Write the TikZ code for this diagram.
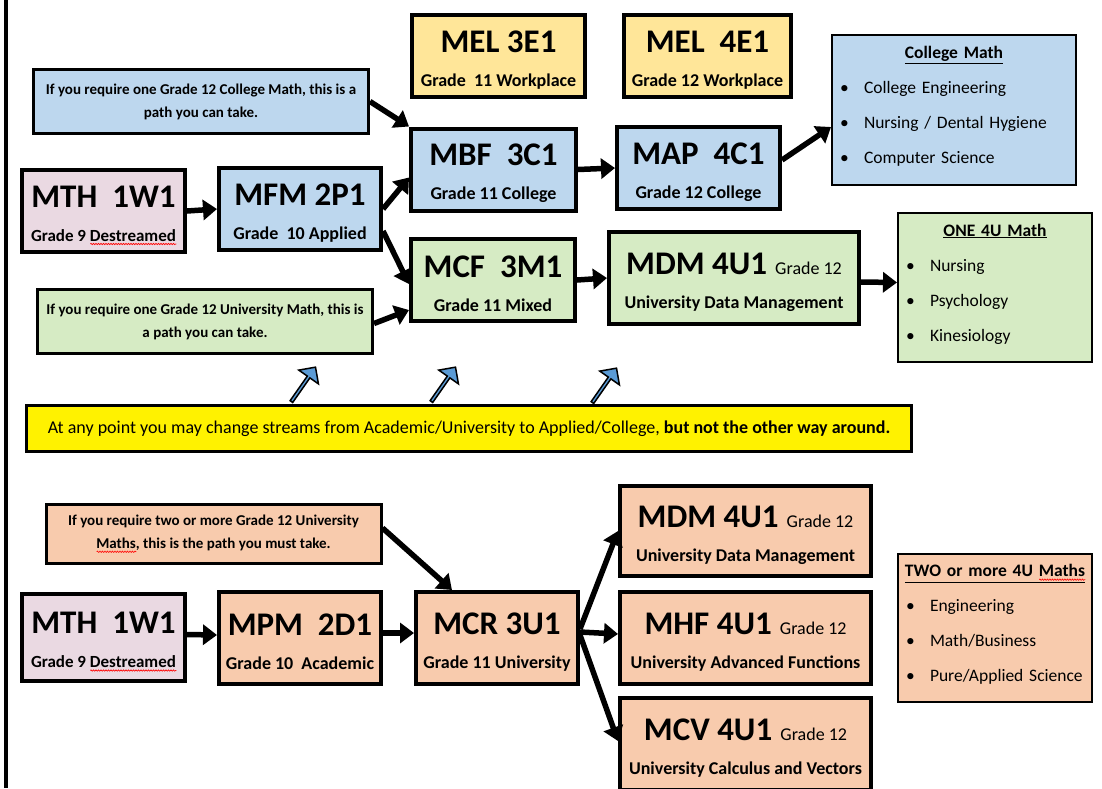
\documentclass[tikz,border=0pt]{standalone}
\usepackage{fontspec}
\setmainfont{Carlito}
\usepackage{tikz}
\usetikzlibrary{arrows.meta,shapes.arrows,decorations.pathmorphing}
\setlength{\parindent}{0pt}

\definecolor{pinkfill}{RGB}{234,217,226}
\definecolor{bluefill}{RGB}{189,215,238}
\definecolor{workfill}{RGB}{255,230,153}
\definecolor{greenfill}{RGB}{214,235,196}
\definecolor{orangefill}{RGB}{248,203,173}
\definecolor{arrowblue}{RGB}{91,155,213}

\newcommand{\ctitle}[1]{{\fontsize{33}{33}\selectfont\rule{0pt}{30pt}#1}}
\newcommand{\csmall}[1]{{\fontsize{17}{17}\selectfont #1}}
\newlength{\sqwidth}
\newcommand{\squig}[1]{\settowidth{\sqwidth}{#1}\rlap{\tikz[baseline=0pt]\draw [red, line width=0.6pt, decorate, decoration={snake, amplitude=0.7pt, segment length=2.5pt}] (0pt, -3pt) -- (\sqwidth, -3pt);}#1}
\newcommand{\bitem}[1]{\par\makebox[26pt][l]{\hspace{2pt}\textbullet}#1}

\begin{document}
\begin{tikzpicture}
            [every node/.style={inner sep=0pt},
             course/.style={draw=black, line width=4pt, minimum width=163pt, minimum height=82pt, align=center, font=\fontsize{18}{34}\selectfont\bfseries},
             info/.style={draw=black, line width=3pt, minimum width=335pt, minimum height=64pt, align=center, font=\fontsize{15}{23}\selectfont\bfseries},
             listbox/.style={draw=black, line width=2pt, inner xsep=6pt, font=\fontsize{17.5}{35}\selectfont},
             flow/.style={line width=5.5pt, -{Triangle[length=14pt, width=20pt]}, color=black},
             hint/.style={single arrow, draw=black, line width=1.5pt, fill=arrowblue, minimum width=24pt, minimum height=42pt, single arrow head extend=5pt, rotate=55}]
                \useasboundingbox (0pt, 0pt) rectangle (1102pt, -788pt);
                \draw [line width=4pt] (6pt, 0pt) -- (6pt, -788pt);
                % college / mixed route
                \node (infoA) [info, fill=bluefill] at (201pt, -101.5pt) {If you require one Grade 12 College Math, this is a\\path you can take.};
                \node (mthA) [course, fill=pinkfill] at (103.5pt, -211pt) {\ctitle{MTH\ \ 1W1}\\\csmall{Grade 9 \squig{Destreamed}}};
                \node (mfm) [course, fill=bluefill, minimum width=162pt] at (300pt, -209pt) {\ctitle{MFM 2P1}\\Grade\ \ 10 Applied};
                \node (mel3) [course, fill=workfill, minimum width=173pt] at (498.5pt, -56pt) {\ctitle{MEL 3E1}\\Grade\ \ 11 Workplace};
                \node (mel4) [course, fill=workfill, minimum width=167pt] at (707.5pt, -56pt) {\ctitle{MEL\ \ 4E1}\\Grade 12 Workplace};
                \node (mbf) [course, fill=bluefill, minimum width=165pt] at (493.5pt, -169.5pt) {\ctitle{MBF\ \ 3C1}\\Grade 11 College};
                \node (map) [course, fill=bluefill] at (698.5pt, -168pt) {\ctitle{MAP\ \ 4C1}\\Grade 12 College};
                \node (mcf) [course, fill=greenfill, minimum width=164pt] at (493pt, -280pt) {\ctitle{MCF\ \ 3M1}\\Grade 11 Mixed};
                \node (mdmA) [course, fill=greenfill, minimum width=250pt, minimum height=92pt] at (734pt, -278pt) {\ctitle{MDM 4U1}\ \ {\mdseries Grade 12}\\University Data Management};
                \node (infoB) [info, fill=greenfill] at (205pt, -321.5pt) {If you require one Grade 12 University Math, this is\\a path you can take.};
                \node (college) [listbox, fill=bluefill, text width=232pt, minimum height=150pt] at (954pt, -110pt) {\hfill\textbf{\underline{College Math}}\hfill\null\bitem{College Engineering}\bitem{Nursing / Dental Hygiene}\bitem{Computer Science}\rule[-10pt]{0pt}{10pt}};
                \node (oneU) [listbox, fill=greenfill, text width=182pt, minimum height=149pt] at (995pt, -287.5pt) {\hfill\textbf{\underline{ONE 4U Math}}\hfill\null\bitem{Nursing}\bitem{Psychology}\bitem{Kinesiology}\rule[-10pt]{0pt}{10pt}};
                \draw [flow] (infoA.east) to (mbf.north west);
                \draw [flow] (mthA.east) to (mfm.west);
                \draw [flow] (mfm.east) to ([yshift=-8pt]mbf.west);
                \draw [flow] ([yshift=-22pt]mfm.east) to ([yshift=-4pt]mcf.west);
                \draw [flow] ([yshift=-2pt]infoB.east) to ([yshift=-30pt]mcf.west);
                \draw [flow] (mbf.east) to (map.west);
                \draw [flow] ([yshift=8pt]map.east) to ([yshift=-17pt]college.west);
                \draw [flow] (mcf.east) to (mdmA.west);
                \draw [flow] ([yshift=-4pt]mdmA.east) to ([yshift=5pt]oneU.west);
                % switching note
                \node (hintA) [hint] at (303pt, -385pt) {};
                \node (hintB) [hint] at (443pt, -385pt) {};
                \node (hintC) [hint] at (604pt, -386pt) {};
                \node (note) [draw=black, line width=3pt, fill=yellow, minimum width=885pt, minimum height=46pt, font=\fontsize{18}{20}\selectfont] at (469pt, -428.5pt) {At any point you may change streams from Academic/University to Applied/College, \textbf{but not the other way around.}};
                % university route
                \node (infoC) [info, fill=orangefill, minimum height=59pt] at (213.5pt, -534pt) {If you require two or more Grade 12 University\\\squig{Maths}, this is the path you must take.};
                \node (mthB) [course, fill=pinkfill, minimum height=87pt] at (103.5pt, -637.5pt) {\ctitle{MTH\ \ 1W1}\\\csmall{Grade 9 \squig{Destreamed}}};
                \node (mpm) [course, fill=orangefill, minimum width=162pt, minimum height=92pt] at (300pt, -638pt) {\ctitle{MPM\ \ 2D1}\\Grade 10\ \ Academic};
                \node (mcr) [course, fill=orangefill, minimum width=162pt, minimum height=92pt] at (497pt, -638pt) {\ctitle{MCR 3U1}\\Grade 11 University};
                \node (mdmB) [course, fill=orangefill, minimum width=251pt, minimum height=90pt] at (745.5pt, -531pt) {\ctitle{MDM 4U1}\ \ {\mdseries Grade 12}\\University Data Management};
                \node (mhf) [course, fill=orangefill, minimum width=251pt, minimum height=92pt] at (745.5pt, -638pt) {\ctitle{MHF 4U1}\ \ {\mdseries Grade 12}\\University Advanced Functions};
                \node (mcv) [course, fill=orangefill, minimum width=251pt, minimum height=92pt] at (745.5pt, -744pt) {\ctitle{MCV 4U1}\ \ {\mdseries Grade 12}\\University Calculus and Vectors};
                \node (twoU) [listbox, fill=orangefill, text width=182pt, minimum height=148pt] at (995pt, -628pt) {\hfill\textbf{\underline{TWO or more 4U \squig{Maths}}}\hfill\null\bitem{Engineering}\bitem{Math/Business}\bitem{Pure/Applied Science}\rule[-10pt]{0pt}{10pt}};
                \draw [flow] ([yshift=6pt]infoC.east) to ([xshift=-45pt]mcr.north);
                \draw [flow] ([yshift=3pt]mthB.east) to ([yshift=3pt]mpm.west);
                \draw [flow] ([yshift=5pt]mpm.east) to ([yshift=5pt]mcr.west);
                \draw [flow] ([yshift=9pt]mcr.east) to (mdmB.west);
                \draw [flow] ([yshift=6pt]mcr.east) to ([yshift=4pt]mhf.west);
                \draw [flow] ([yshift=3pt]mcr.east) to ([yshift=3pt]mcv.west);
            \end{tikzpicture}
\end{document}
